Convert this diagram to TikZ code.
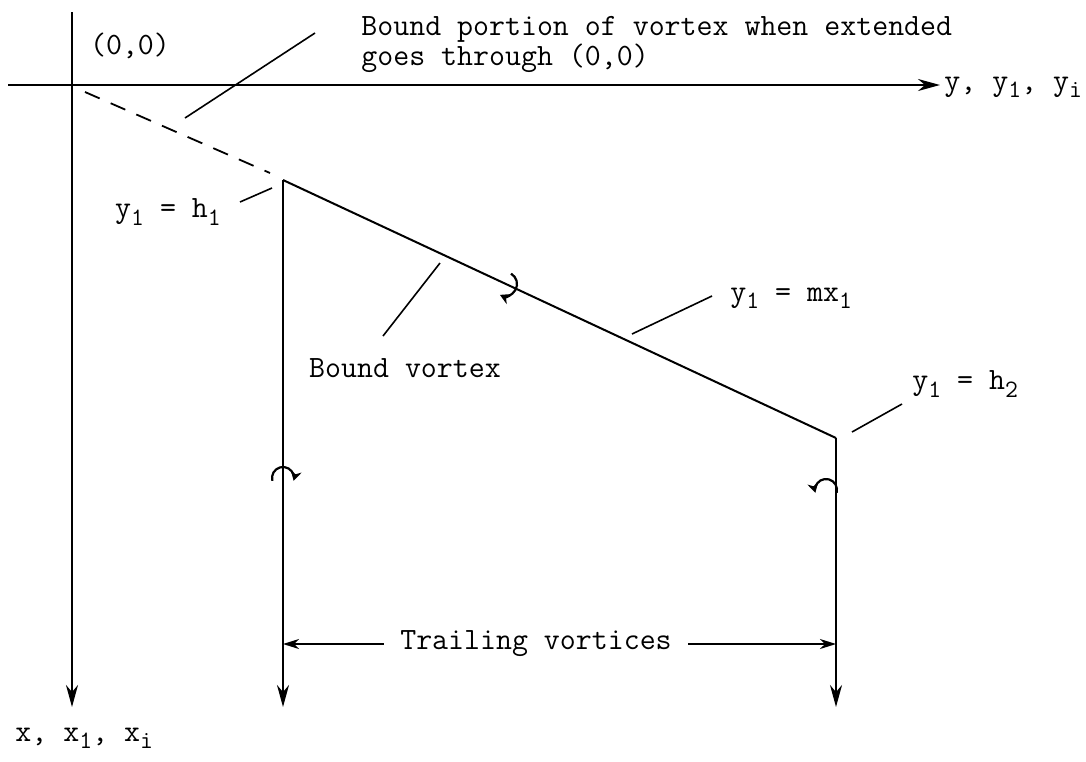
\documentclass[tikz,border=0pt]{standalone}
\usepackage{fontspec}
\usetikzlibrary{arrows.meta}
\newcommand{\lo}[1]{\raisebox{-0.55ex}{\fontsize{12.5}{12}\selectfont #1}}
\begin{document}
\begin{tikzpicture}[x=0.5pt, y=-0.5pt,
    lbl/.style={font=\ttfamily\fontsize{15.5}{13}\selectfont, inner sep=0pt, align=left},
    axis/.style={line width=1pt, -{Stealth[length=11pt, width=6pt, inset=3.5pt]}},
    vortex/.style={line width=1pt},
    bound ext/.style={line width=0.9pt, dash pattern=on 8pt off 6pt},
    leader/.style={line width=0.8pt},
    dimline/.style={line width=0.8pt, -{Stealth[length=8pt, width=5pt, inset=2.5pt]}},
    curl/.style={line width=1.1pt, -{Stealth[length=5pt, width=5.5pt]}}
]
\useasboundingbox (0,0) rectangle (1086,761);

% axes
\coordinate (O) at (72,85);
\coordinate (xtop) at (72,12);
\coordinate (xend) at (72,707);
\coordinate (yleft) at (8,85);
\coordinate (yend) at (940,85);
\draw[axis] (xtop) -- (xend);
\draw[axis] (yleft) -- (yend);
\node[lbl] (origin) at (130,46) {(0,0)};
\node[lbl, anchor=west] (ylab) at (944,87) {y, y\lo{1}, y\lo{i}};
\node[lbl, anchor=west] (xlab) at (15,738) {x, x\lo{1}, x\lo{i}};

% bound vortex and its extension
\coordinate (h1) at (283,180);
\coordinate (h2) at (836,438);
\coordinate (ext0) at (85,92);
\coordinate (ext1) at (270,173);
\draw[bound ext] (ext0) -- (ext1);
\draw[vortex] (h1) -- (h2);

% trailing vortices
\coordinate (lend) at (283,707);
\coordinate (rend) at (836,707);
\draw[axis] (h1) -- (lend);
\draw[axis] (h2) -- (rend);

% rotation marks
\coordinate (lcurl) at (283,478);
\coordinate (rcurl) at (826,490);
\coordinate (bcurl) at (505,284);
\draw[curl] (lcurl) ++(195:5.5pt) arc[start angle=195, end angle=-15, radius=5.5pt];
\draw[curl] (rcurl) ++(-15:5.5pt) arc[start angle=-15, end angle=195, radius=5.5pt];
\draw[curl] (bcurl) ++(60:6pt) arc[start angle=60, end angle=-115, radius=6pt];

% labels with leaders
\node[lbl, anchor=north west] (extlab) at (361,16) {Bound portion of vortex when extended\\goes through (0,0)};
\coordinate (extA) at (315,33);
\coordinate (extB) at (185,118);
\draw[leader] (extA) -- (extB);

\node[lbl] (h1lab) at (168,212) {y\lo{1} = h\lo{1}};
\coordinate (h1A) at (240,202);
\coordinate (h1B) at (272,188);
\draw[leader] (h1A) -- (h1B);

\node[lbl] (bvlab) at (405,368) {Bound vortex};
\coordinate (bvA) at (383,336);
\coordinate (bvB) at (440,263);
\draw[leader] (bvA) -- (bvB);

\node[lbl, anchor=west] (mxlab) at (730,298) {y\lo{1} = mx\lo{1}};
\coordinate (mxA) at (632,334);
\coordinate (mxB) at (712,296);
\draw[leader] (mxA) -- (mxB);

\node[lbl, anchor=west] (h2lab) at (912,384) {y\lo{1} = h\lo{2}};
\coordinate (h2A) at (852,432);
\coordinate (h2B) at (902,404);
\draw[leader] (h2A) -- (h2B);

% trailing vortices span
\node[lbl] (tvlab) at (536,644) {Trailing vortices};
\draw[dimline] ([xshift=-8pt]tvlab.west) -- (tvlab.west -| h1);
\draw[dimline] ([xshift=8pt]tvlab.east) -- (tvlab.east -| h2);
\end{tikzpicture}
\end{document}
